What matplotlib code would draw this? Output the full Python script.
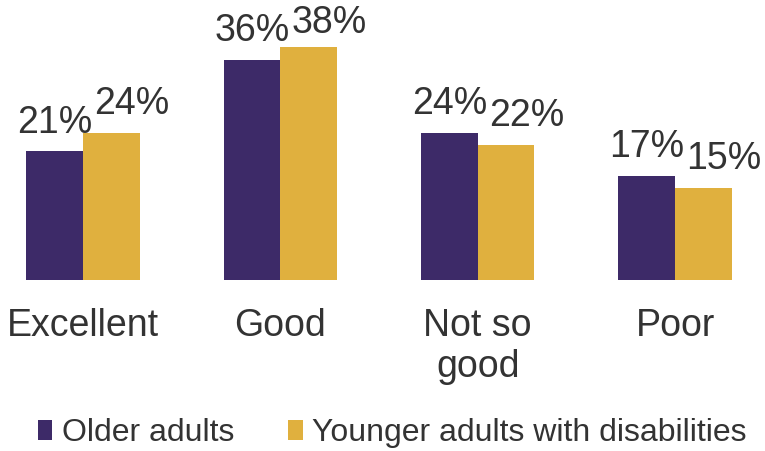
import matplotlib
matplotlib.use("Agg")
import matplotlib.pyplot as plt
from matplotlib.patches import Patch
import numpy as np

plt.rcParams['font.family'] = ['Liberation Sans', 'DejaVu Sans']

categories = ["Excellent", "Good", "Not so\ngood", "Poor"]
older = [21, 36, 24, 17]
younger = [24, 38, 22, 15]
series_names = ["Older adults", "Younger adults with disabilities"]

PURPLE = "#3d2a68"
GOLD = "#e0b03e"
TEXT = "#333333"

fig = plt.figure(figsize=(7.65, 4.51), dpi=100)
ax = fig.add_axes([0, 171 / 451, 1, 280 / 451])

x = np.arange(len(categories))
w = 0.287
b1 = ax.bar(x - w / 2, older, w, color=PURPLE)
b2 = ax.bar(x + w / 2, younger, w, color=GOLD)

# value labels above bars, kept below the top edge of the figure
for bars, vals, dx in ((b1, older, 0), (b2, younger, 0.105)):
    for rect, v in zip(bars, vals):
        ax.text(rect.get_x() + rect.get_width() / 2 + dx, min(v + 3.1, 40.4),
                f"{v}%", ha="center", va="baseline", fontsize=27, color=TEXT,
                clip_on=False)

ax.set_xlim(-0.4206, 3.456)
ax.set_ylim(0, 45.75)
ax.set_xticks(x)
ax.set_xticklabels(categories, fontsize=27, color=TEXT, linespacing=1.15)
ax.tick_params(axis="x", length=0, pad=20.5)
ax.set_yticks([])
for s in ax.spines.values():
    s.set_visible(False)

handles = [Patch(facecolor=PURPLE), Patch(facecolor=GOLD)]
fig.legend(handles, series_names, loc="lower left", bbox_to_anchor=(0.02, -0.043),
           ncol=2, frameon=False, fontsize=23, labelcolor=TEXT,
           handlelength=0.45, handleheight=0.6, handletextpad=0.3,
           columnspacing=1.7, borderpad=0.2)

fig.savefig("out.png", dpi=100)
